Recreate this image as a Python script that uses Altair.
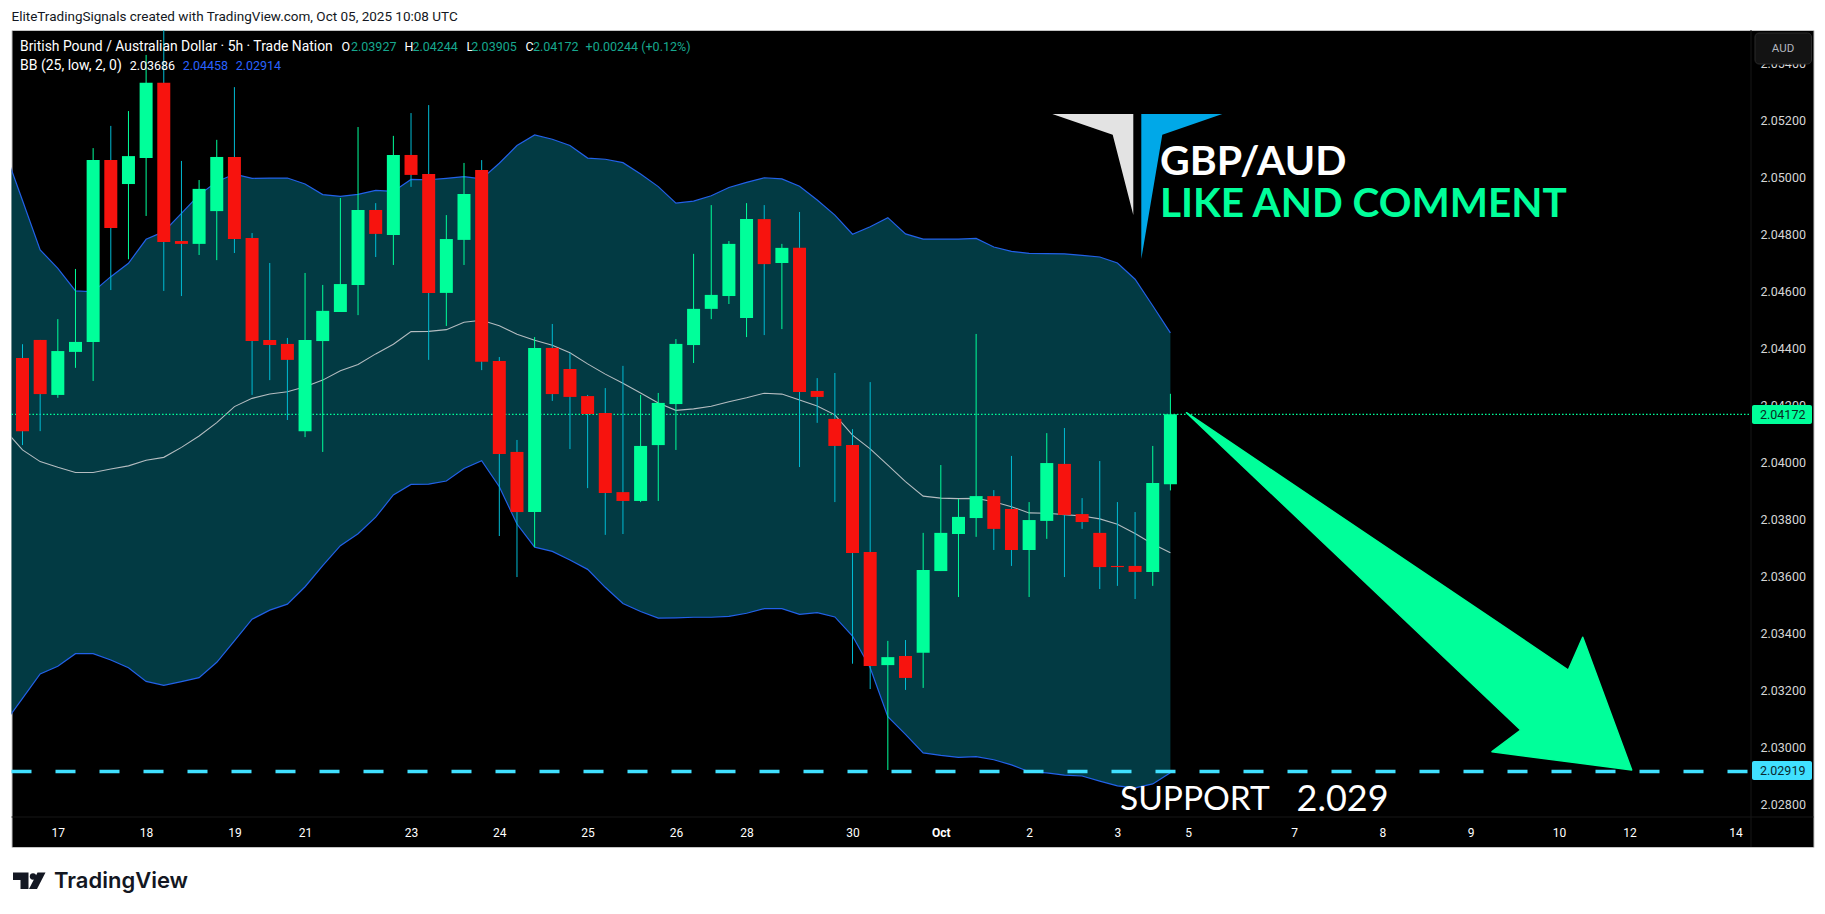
import altair as alt
import pandas as pd

OX, OY = 11.5, 30.0
W, H = 1802, 817
AXIS_W = 62.5
TIME_H = 30

# candles: open, high, low, close
opens = [2.04370,2.04433,2.04240,2.04391,2.04426,2.05064,2.04980,2.05071,2.05335,2.04780,
         2.04770,2.04885,2.05075,2.04791,2.04433,2.04419,2.04113,2.04429,2.04531,2.04626,
         2.04889,2.04801,2.05082,2.05015,2.04598,2.04784,2.05029,2.04359,2.04040,2.03829,
         2.04405,2.04331,2.04236,2.04177,2.03899,2.03868,2.04064,2.04208,2.04415,2.04542,
         2.04587,2.04510,2.04857,2.04703,2.04756,2.04254,2.04156,2.04064,2.03689,2.03292,
         2.03324,2.03335,2.03622,2.03752,2.03808,2.03885,2.03840,2.03696,2.03798,2.03998,
         2.03822,2.03756,2.03640,2.03640,2.03619,2.03927]
highs = [2.04418,2.04433,2.04506,2.04682,2.05106,2.05184,2.05236,2.05433,2.05520,2.05061,
         2.04994,2.05135,2.05320,2.04808,2.04703,2.04440,2.04668,2.04626,2.04931,2.05180,
         2.04913,2.05149,2.05229,2.05257,2.04871,2.05054,2.05064,2.04373,2.04082,2.04443,
         2.04489,2.04387,2.04240,2.04264,2.04342,2.04240,2.04247,2.04436,2.04735,2.04906,
         2.04780,2.04913,2.04906,2.04770,2.04882,2.04299,2.04317,2.04120,2.04285,2.03377,
         2.03380,2.03756,2.03994,2.03875,2.04454,2.03906,2.04026,2.03864,2.04106,2.04124,
         2.03878,2.04008,2.03864,2.03829,2.04061,2.04244]
lows = [2.04064,2.04113,2.04230,2.04335,2.04289,2.04608,2.04716,2.04868,2.04605,2.04587,
        2.04731,2.04713,2.04738,2.04240,2.04292,2.04152,2.04092,2.04040,2.04531,2.04520,
        2.04724,2.04696,2.04970,2.04363,2.04482,2.04696,2.04327,2.03745,2.03601,2.03706,
        2.04219,2.04050,2.03913,2.03749,2.03752,2.03864,2.03868,2.04047,2.04352,2.04506,
        2.04559,2.04443,2.04450,2.04471,2.03987,2.04142,2.03864,2.03297,2.03208,2.02924,
        2.03205,2.03212,2.03622,2.03531,2.03742,2.03696,2.03640,2.03531,2.03735,2.03601,
        2.03770,2.03559,2.03570,2.03524,2.03570,2.03905]
closes = [2.04113,2.04243,2.04394,2.04426,2.05064,2.04826,2.05078,2.05335,2.04777,2.04770,
          2.04963,2.05075,2.04787,2.04429,2.04415,2.04363,2.04433,2.04535,2.04629,2.04889,
          2.04805,2.05082,2.05012,2.04598,2.04787,2.04945,2.04356,2.04033,2.03829,2.04405,
          2.04243,2.04233,2.04173,2.03896,2.03868,2.04061,2.04212,2.04419,2.04542,2.04591,
          2.04770,2.04857,2.04699,2.04756,2.04250,2.04233,2.04061,2.03685,2.03289,2.03320,
          2.03247,2.03626,2.03756,2.03812,2.03885,2.03770,2.03696,2.03801,2.04001,2.03819,
          2.03794,2.03636,2.03636,2.03619,2.03931,2.04172]

# Bollinger bands, from the bar before the first visible one
bb_upper = [2.05095,2.04922,2.04749,2.04684,2.04605,2.04602,2.04655,2.04702,2.04786,2.04813,
            2.04877,2.04942,2.04988,2.05015,2.05000,2.05001,2.05001,2.04980,2.04943,2.04937,
            2.04944,2.04958,2.04954,2.04996,2.04995,2.05000,2.05006,2.04998,2.05053,2.05115,
            2.05152,2.05137,2.05115,2.05071,2.05067,2.05055,2.05015,2.04971,2.04913,2.04920,
            2.04939,2.04968,2.04986,2.05002,2.04998,2.04972,2.04924,2.04871,2.04804,2.04830,
            2.04862,2.04805,2.04787,2.04787,2.04787,2.04789,2.04759,2.04744,2.04737,2.04736,
            2.04735,2.04730,2.04724,2.04703,2.04646,2.04553,2.04458]
bb_middle = [2.04117,2.04047,2.04006,2.03986,2.03968,2.03968,2.03980,2.03991,2.04011,2.04021,
             2.04056,2.04096,2.04143,2.04199,2.04228,2.04243,2.04251,2.04269,2.04292,2.04325,
             2.04347,2.04384,2.04418,2.04462,2.04463,2.04469,2.04495,2.04502,2.04483,2.04453,
             2.04432,2.04414,2.04388,2.04349,2.04313,2.04281,2.04247,2.04212,2.04186,2.04191,
             2.04200,2.04216,2.04230,2.04246,2.04243,2.04222,2.04201,2.04170,2.04099,2.04051,
             2.03994,2.03936,2.03885,2.03878,2.03876,2.03877,2.03865,2.03848,2.03826,2.03825,
             2.03820,2.03815,2.03805,2.03786,2.03754,2.03717,2.03686]
bb_lower = [2.03090,2.03175,2.03261,2.03288,2.03332,2.03332,2.03310,2.03283,2.03235,2.03221,
            2.03234,2.03248,2.03302,2.03377,2.03453,2.03485,2.03506,2.03567,2.03641,2.03711,
            2.03753,2.03811,2.03889,2.03926,2.03927,2.03938,2.03982,2.04009,2.03918,2.03787,
            2.03706,2.03691,2.03661,2.03628,2.03565,2.03508,2.03480,2.03457,2.03458,2.03460,
            2.03460,2.03463,2.03474,2.03490,2.03490,2.03470,2.03476,2.03461,2.03394,2.03283,
            2.03111,2.03049,2.02984,2.02975,2.02968,2.02971,2.02960,2.02942,2.02918,2.02914,
            2.02906,2.02903,2.02885,2.02868,2.02861,2.02875,2.02914]

time_bars = [2,7,12,16,22,27,32,37,41,47,52,57,62,66,72,77,82,87,91,97]
time_labels = ["17","18","19","21","23","24","25","26","28","30","Oct","2","3","5","7","8","9","10","12","14"]
price_ticks = [2.028,2.030,2.032,2.034,2.036,2.038,2.040,2.042,2.044,2.046,2.048,2.050,2.052,2.054]

LAST = 2.04172
SUPPORT = 2.02919

GREEN = "#00ff9a"
RED = "#f7130e"
CYAN_WICK = "#00bcd4"
FILL = "#023a43"
BLUE = "#2261e8"
TEAL = "#17a88f"
TEXT_FONT = "Roboto"
HEAD_FONT = "Lato"

candles = pd.DataFrame({"i": range(len(opens)), "o": opens, "h": highs, "l": lows, "c": closes})
candles["dir"] = ["up" if c >= o else "down" for o, c in zip(opens, closes)]
bands = pd.DataFrame({"i": range(-1, len(bb_upper) - 1), "u": bb_upper, "m": bb_middle, "b": bb_lower})
one = pd.DataFrame({"k": [0]})

xs = alt.Scale(domain=[(OX - 22.5) / 17.66, (OX + W - 22.5) / 17.66], nice=False, zero=False, padding=0)
ys = alt.Scale(domain=[2.04 + (1390 - 2541) / 85500, 2.04 + (1390 - 90) / 85500], nice=False, zero=False, padding=0)

label_map = "{" + ",".join(f"'{b}':'{t}'" for b, t in zip(time_bars, time_labels)) + "}"
x_axis = alt.Axis(values=time_bars, labelExpr=f"{label_map}[datum.value]", title=None, grid=False, domain=False,
                  ticks=False, labelColor="#ffffff", labelFont=TEXT_FONT, labelFontSize=12, labelPadding=10,
                  offset=-TIME_H, labelOverlap=False, labelFlush=False,
                  labelFontWeight=alt.expr("datum.value == 52 ? 'bold' : 'normal'"))
y_axis = alt.Axis(values=price_ticks, format=".5f", orient="right", title=None, grid=False, domain=False, ticks=False,
                  labelColor="#d6d6d6", labelFont=TEXT_FONT, labelFontSize=12.5, labelPadding=9, labelAlign="left",
                  labelOffset=-1, offset=-AXIS_W, labelOverlap=False, labelFlush=False)


def X():
    return alt.X("i:Q", scale=xs, axis=x_axis)


def Y(field):
    return alt.Y(f"{field}:Q", scale=ys, axis=y_axis)


def text(s, x, y, color="#ffffff", size=12.5, font=TEXT_FONT, weight="normal", align="left"):
    return alt.Chart(one).mark_text(text=s, align=align, baseline="middle", font=font, fontSize=size,
                                    fontWeight=weight, color=color).encode(x=alt.value(x - OX), y=alt.value(y - OY))


def poly(points, color, stroke=0.0):
    path = "M" + " L".join(f"{x - OX:.1f},{y - OY:.1f}" for x, y in points) + " Z"
    return alt.Chart(one).mark_point(shape=path, size=4, filled=True, fill=color, opacity=1, stroke=color,
                                     strokeWidth=stroke, strokeJoin="round").encode(x=alt.value(0), y=alt.value(0))


def box(x0, x1, y0, y1, color, stroke=None, radius=2):
    kw = {"stroke": stroke, "strokeWidth": 1} if stroke else {}
    return alt.Chart(one).mark_rect(color=color, cornerRadius=radius, **kw).encode(
        x=alt.value(x0 - OX), x2=alt.value(x1 - OX), y=alt.value(y0 - OY), y2=alt.value(y1 - OY))


def level(price, color, width, dash):
    d = pd.DataFrame({"v": [price]})
    return alt.Chart(d).mark_rule(color=color, strokeWidth=width, strokeDash=dash).encode(
        y=Y("v"), x=alt.value(0), x2=alt.value(W - AXIS_W))


band_fill = alt.Chart(bands).mark_area(color=FILL, opacity=1, clip=True).encode(x=X(), y=Y("u"), y2="b:Q")
band_u = alt.Chart(bands).mark_line(color=BLUE, strokeWidth=1.2, clip=True).encode(x=X(), y=Y("u"))
band_b = alt.Chart(bands).mark_line(color=BLUE, strokeWidth=1.2, clip=True).encode(x=X(), y=Y("b"))
band_m = alt.Chart(bands).mark_line(color="#b4bcc0", strokeWidth=1.1, clip=True).encode(x=X(), y=Y("m"))

wicks = alt.Chart(candles).mark_rule(strokeWidth=1).encode(
    x=X(), y=Y("h"), y2="l:Q",
    color=alt.Color("dir:N", scale=alt.Scale(domain=["up", "down"], range=[GREEN, CYAN_WICK]), legend=None))
bodies = alt.Chart(candles).mark_bar(size=13, orient="vertical").encode(
    x=X(), y=Y("o"), y2="c:Q",
    fill=alt.Fill("dir:N", scale=alt.Scale(domain=["up", "down"], range=[GREEN, RED]), legend=None))

separators = [
    alt.Chart(one).mark_rule(color="#161616", strokeWidth=1).encode(
        x=alt.value(W - AXIS_W), y=alt.value(0), y2=alt.value(H)),
    alt.Chart(one).mark_rule(color="#161616", strokeWidth=1).encode(
        y=alt.value(H - TIME_H), x=alt.value(0), x2=alt.value(W)),
]

arrow = poly([(1186.5, 412.7), (1568.3, 670), (1582.7, 637.3), (1631.7, 770), (1492, 751.7), (1520.7, 730)], GREEN, 1.5)
logo_l = poly([(1052.3, 114), (1133.3, 114), (1133.3, 215), (1112.7, 134.7)], "#e3e3e3")
logo_r = poly([(1141.3, 114), (1222.3, 114), (1162.3, 134.7), (1141.3, 259)], "#00a8e8")

tv_t = poly([(13, 872.5), (28.5, 872.5), (28.5, 889), (20.5, 889), (20.5, 880), (13, 880)], "#131722")
tv_s = poly([(37.5, 872.5), (45.5, 872.5), (37, 889), (29, 889)], "#131722")
tv_d = alt.Chart(one).mark_point(shape="circle", size=40, filled=True, color="#131722", opacity=1).encode(
    x=alt.value(33 - OX), y=alt.value(876.5 - OY))

labels = [
    text("EliteTradingSignals created with TradingView.com, Oct 05, 2025 10:08 UTC", 11.5, 16.7, "#131722", 13.5),
    text("British Pound / Australian Dollar · 5h · Trade Nation", 20, 46.7, "#ffffff", 13.9),
    text("O", 341.6, 46.7), text("2.03927", 351, 46.7, TEAL),
    text("H", 404.5, 46.7), text("2.04244", 412.4, 46.7, TEAL),
    text("L", 466.6, 46.7), text("2.03905", 471.3, 46.7, TEAL),
    text("C", 525.5, 46.7), text("2.04172", 533, 46.7, TEAL),
    text("+0.00244 (+0.12%)", 585.6, 46.7, TEAL),
    text("BB (25, low, 2, 0)", 20, 65.7, size=14),
    text("2.03686", 129.7, 65.7), text("2.04458", 182.7, 65.7, "#2962ff"), text("2.02914", 235.7, 65.7, "#2962ff"),
    box(1755, 1811.5, 33, 64, "#131313", "#2a2a2a", 4),
    text("AUD", 1783, 48.5, "#b2b5be", 11.5, align="center"),
    box(1752, 1812, 405, 424, GREEN),
    text("2.04172", 1760, 414.5, "#0a2a22", 12.5),
    box(1752, 1812, 761, 780, "#40e0ff"),
    text("2.02919", 1760, 770.5, "#0a2a30", 12.5),
    text("GBP/AUD", 1160, 163, "#ffffff", 41, HEAD_FONT, "bold"),
    text("LIKE AND COMMENT", 1160, 205, GREEN, 40.5, HEAD_FONT, "bold"),
    text("SUPPORT", 1120, 799.5, "#ffffff", 33.5, HEAD_FONT),
    text("2.029", 1296.5, 799.5, "#ffffff", 36, HEAD_FONT),
    text("TradingView", 54, 881, "#131722", 22, "Inter", 600),
]

chart = alt.layer(
    band_fill, band_u, band_b, band_m,
    level(LAST, GREEN, 1.2, [1.5, 2]),
    wicks, bodies,
    level(SUPPORT, "#40e0ff", 3.5, [20, 24]),
    *separators, arrow, logo_l, logo_r, tv_t, tv_s, tv_d, *labels,
).properties(
    width=W, height=H, background="#ffffff", autosize="none",
    padding={"left": OX - 8, "top": OY - 8, "right": 3, "bottom": 52},
).configure_view(fill="#000000", stroke="#c4c4c4", strokeWidth=1)

chart.save("out.html", embed_options={"renderer": "svg", "actions": False})
